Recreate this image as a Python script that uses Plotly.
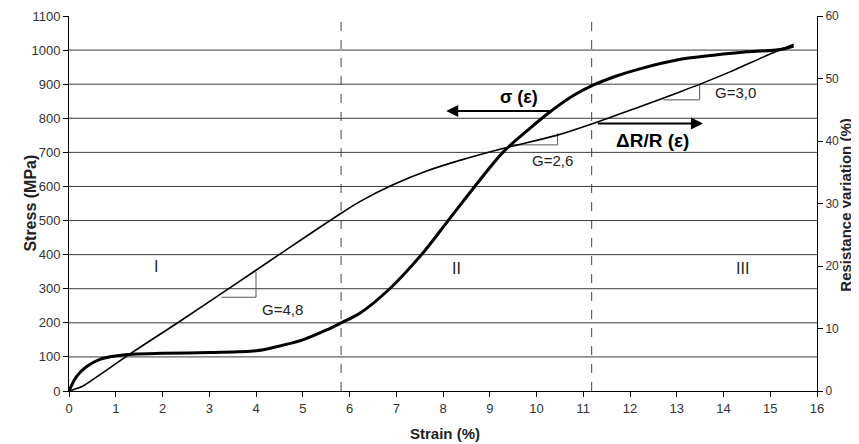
import plotly.graph_objects as go

# --- Data ---
strain_sigma = [0, 0.16, 0.37, 0.66, 1.0, 1.37, 2.0, 3.0, 4.0, 4.44, 5.0, 5.51, 5.82, 6.22,
                6.86, 7.54, 8.11, 8.68, 9.28, 9.82, 10.32, 10.78, 11.21, 11.71, 12.21,
                13.08, 13.79, 14.5, 15.22, 15.5]
stress_mpa = [0, 42, 71, 93, 103, 108, 110.5, 113, 118, 130, 150, 179, 200, 228,
              300, 400, 500, 600, 700, 766, 822, 866, 897, 924, 945,
              973, 985, 995, 1002, 1012]

strain_res = [0, 0.3, 0.6, 1.3, 2.3, 3.44, 4.51, 5.65, 6.22, 6.93, 7.65, 8.36, 9.28, 10.43,
              11.21, 12.21, 13.08, 13.5, 14.15, 14.87, 15.22, 15.5]
resistance_pct = [0, 0.8, 2.3, 5.9, 10.8, 16.5, 21.9, 27.6, 30.3, 33.0, 35.2, 36.9, 38.8, 40.9,
                  42.8, 45.5, 47.9, 49.1, 51.1, 53.5, 54.6, 55.5]

region_bounds = [5.82, 11.18]
region_labels = ["I", "II", "III"]
region_label_x = [1.87, 8.29, 14.4]
region_label_y = [365, 358, 360]

# slope triangles (strain, stress): horizontal leg start, corner, vertical leg end
tri_gf1 = ([3.26, 4.0, 4.0], [275, 275, 350])
tri_gf2 = ([9.46, 10.45, 10.45], [722, 722, 756])
tri_gf3 = ([12.71, 13.49, 13.49], [854, 854, 900])
gauge_labels = ["G=4,8", "G=2,6", "G=3,0"]
gauge_label_x = [4.08, 9.86, 13.78]
gauge_label_y = [240, 675, 876]

stress_ticks = list(range(0, 1101, 100))
res_ticks = list(range(0, 61, 10))
strain_ticks = list(range(0, 17))

FONT = "Arial, Liberation Sans, sans-serif"

fig = go.Figure()

# horizontal gridlines
for g in stress_ticks[1:-1]:
    fig.add_shape(type="line", xref="paper", x0=0, x1=1, yref="y", y0=g, y1=g,
                  line=dict(color="#3a3a3a", width=1), layer="below")

for b in region_bounds:
    fig.add_shape(type="line", xref="x", x0=b, x1=b, yref="paper", y0=0, y1=0.99,
                  line=dict(color="#444444", width=1, dash="dash"), layer="below")

for tri in (tri_gf1, tri_gf2, tri_gf3):
    fig.add_trace(go.Scatter(x=tri[0], y=tri[1], mode="lines",
                             line=dict(color="#555555", width=1), showlegend=False,
                             hoverinfo="skip"))

fig.add_trace(go.Scatter(x=strain_sigma, y=stress_mpa, mode="lines",
                         line=dict(color="black", width=3, shape="spline", smoothing=0.9),
                         name="σ (ε)", showlegend=False))
fig.add_trace(go.Scatter(x=strain_res, y=resistance_pct, mode="lines", yaxis="y2",
                         line=dict(color="black", width=1.6, shape="spline", smoothing=0.9),
                         name="ΔR/R (ε)", showlegend=False))

annotations = []
for t, x, y in zip(region_labels, region_label_x, region_label_y):
    annotations.append(dict(x=x, y=y, xref="x", yref="y", text=t, showarrow=False,
                            font=dict(family=FONT, size=16, color="#222")))
for t, x, y in zip(gauge_labels, gauge_label_x, gauge_label_y):
    annotations.append(dict(x=x, y=y, xref="x", yref="y", text=t, showarrow=False,
                            xanchor="left", font=dict(family=FONT, size=15, color="#222")))

# curve labels with arrows
annotations.append(dict(x=9.62, y=862, xref="x", yref="y", text="<b>σ (ε)</b>", showarrow=False,
                        font=dict(family=FONT, size=18, color="black")))
annotations.append(dict(x=8.07, y=821, ax=10.32, ay=821, xref="x", yref="y", axref="x", ayref="y",
                        text="", showarrow=True, arrowhead=2, arrowsize=1.2, arrowwidth=2,
                        arrowcolor="black"))
annotations.append(dict(x=12.48, y=736, xref="x", yref="y", text="<b>ΔR/R (ε)</b>", showarrow=False,
                        font=dict(family=FONT, size=19, color="black")))
annotations.append(dict(x=13.56, y=785, ax=11.28, ay=785, xref="x", yref="y", axref="x", ayref="y",
                        text="", showarrow=True, arrowhead=2, arrowsize=1.2, arrowwidth=2,
                        arrowcolor="black"))

# axis titles
annotations.append(dict(x=-0.052, y=0.5, xref="paper", yref="paper", text="<b>Stress (MPa)</b>",
                        textangle=-90, showarrow=False, xanchor="center", yanchor="middle",
                        font=dict(family=FONT, size=16, color="#222")))
annotations.append(dict(x=1.037, y=0.496, xref="paper", yref="paper",
                        text="<b>Resistance variation (%)</b>", textangle=-90, showarrow=False,
                        xanchor="center", yanchor="middle",
                        font=dict(family=FONT, size=15, color="#222")))
annotations.append(dict(x=0.503, y=-0.112, xref="paper", yref="paper", text="<b>Strain (%)</b>",
                        showarrow=False, xanchor="center", yanchor="middle",
                        font=dict(family=FONT, size=15, color="#222")))

# page has an 8px body margin: figure sized/offset to land the plot at the reference position
fig.update_layout(
    width=851, height=436,
    margin=dict(l=61, r=42, t=8, b=53),
    paper_bgcolor="white", plot_bgcolor="white",
    font=dict(family=FONT, size=12, color="#333"),
    annotations=annotations,
    xaxis=dict(range=[0, 16], tickvals=strain_ticks, showgrid=False, zeroline=False,
               showline=True, linecolor="black", linewidth=1, ticks="outside", ticklen=5,
               tickcolor="black", tickfont=dict(size=13, color="#333"), automargin=False),
    yaxis=dict(range=[0, 1100], tickvals=stress_ticks, showgrid=False, zeroline=False,
               showline=True, linecolor="black", linewidth=1, ticks="outside", ticklen=5,
               tickcolor="black", tickfont=dict(size=13, color="#333"), automargin=False),
    yaxis2=dict(range=[0, 60], tickvals=res_ticks, overlaying="y", side="right", showgrid=False,
                zeroline=False, showline=True, linecolor="black", linewidth=1, ticks="outside",
                ticklen=5, tickcolor="black", tickfont=dict(size=12, color="#333"),
                automargin=False),
)

fig.write_html("out.html")
